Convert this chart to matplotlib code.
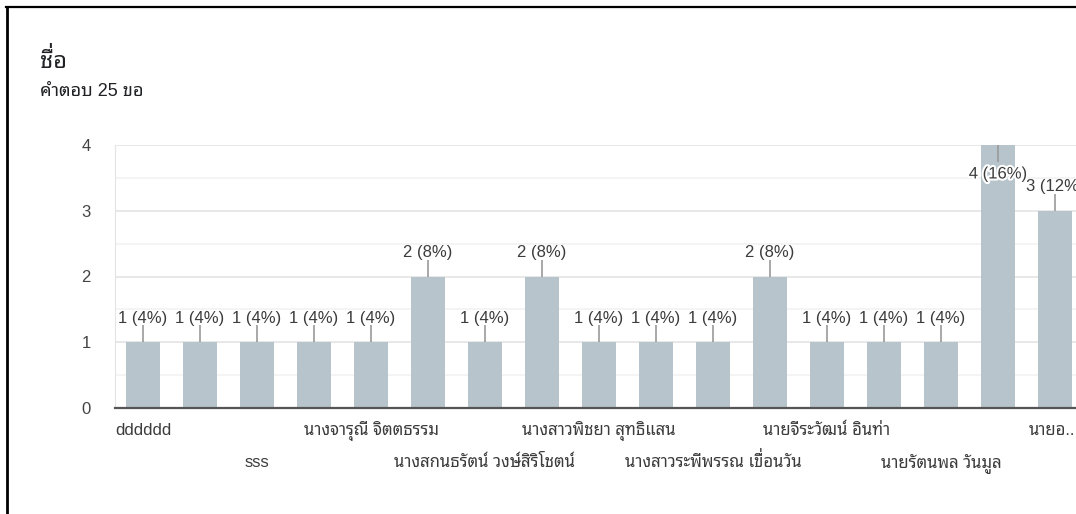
import matplotlib
matplotlib.use('Agg')
import matplotlib.pyplot as plt
from matplotlib.lines import Line2D
import matplotlib.patheffects as pe
from matplotlib.font_manager import FontProperties, fontManager, get_font
from matplotlib.ft2font import LoadFlags
from matplotlib._text_helpers import layout

plt.rcParams['font.family'] = ['Liberation Sans', 'Noto Sans Thai Looped']

# responses per name (only every second name is printed on the axis)
names = ['dddddd', '', 'sss', '', 'นางจารุณี จิตตธรรม', '',
         'นางสกนธรัตน์ วงษ์สิริโชตน์', '', 'นางสาวพิชยา สุทธิแสน', '',
         'นางสาวระพีพรรณ เขื่อนวัน', '', 'นายจีระวัฒน์ อินท่า', '',
         'นายรัตนพล วันมูล', '', 'นายอ..']
counts = [1, 1, 1, 1, 1, 2, 1, 2, 1, 1, 1, 2, 1, 1, 1, 4, 3]
total = 25
title = 'ชื่อ'
subtitle = 'คำตอบ 25 ขอ'

W, H = 1076, 514
fig = plt.figure(figsize=(W / 100, H / 100), dpi=100)

bar_color = '#b7c4cc'
text_color = '#3c3c3c'

UPPER = 'ัิีึื็'
TONES = '่้๊๋์'


def thai_text(x, y, s, size, ha='left', **kw):
    """Text at pixel x / baseline y. matplotlib does no Thai shaping, so a tone
    mark sitting on an upper vowel is drawn on its own, lifted above the vowel."""
    prop = FontProperties(family=plt.rcParams['font.family'], size=size)
    font = get_font(fontManager._find_fonts_by_props(prop))
    font.set_size(size, 100)
    stacked = [k for k in range(1, len(s)) if s[k] in TONES and s[k - 1] in UPPER]
    main = ''.join(c for k, c in enumerate(s) if k not in stacked)
    font.set_text(main, 0.0)
    w = font.get_width_height()[0] / 64
    x0 = x - w / 2 if ha == 'center' else x
    x0 = min(x0, W - w - 1)
    fig.text(x0 / W, y / H, main, ha='left', va='baseline', fontsize=size, **kw)
    for k in stacked:
        items = list(layout(s[:k + 1], font))
        ft = items[-1].ft_object
        vowel = ft.load_char(ord(s[k - 1]), flags=LoadFlags.NO_HINTING).bbox
        tone = ft.load_char(ord(s[k]), flags=LoadFlags.NO_HINTING).bbox
        lift = (vowel[3] - tone[1]) / 64 + 1
        fig.text((x0 + items[-1].x) / W, (y + lift) / H, s[k], ha='left',
                 va='baseline', fontsize=size, **kw)


# plot area in pixels: y=0 at 408, y=4 at 145, 57 px per bar, first bar at 143
step = 57
left = 143 - step / 2
ax = fig.add_axes([left / W, (H - 408) / H, len(counts) * step / W, (408 - 145) / H])
x = list(range(len(counts)))
ax.bar(x, counts, width=0.61, color=bar_color, zorder=2)
ax.set_xlim(-0.5, len(counts) - 0.5)
ax.set_ylim(0, 4)
px = (408 - 145) / 4  # pixels per count

ax.set_yticks([0, 1, 2, 3, 4])
ax.set_yticks([0.5, 1.5, 2.5, 3.5], minor=True)
ax.grid(axis='y', which='major', color='#e4e4e4', lw=1.2, zorder=0)
ax.grid(axis='y', which='minor', color='#f2f2f2', lw=1.2, zorder=0)
ax.tick_params(axis='y', which='both', length=0, pad=17, labelsize=12, labelcolor='#444444')
ax.set_xticks([])
for s in ['top', 'right']:
    ax.spines[s].set_visible(False)
ax.spines['left'].set_color('#e4e4e4')
ax.spines['bottom'].set_color('#555555')
ax.spines['bottom'].set_linewidth(1.6)
ax.spines['bottom'].set_zorder(3)

ymax = ax.get_ylim()[1]
for i, v in enumerate(counts):
    label = '%d (%d%%)' % (v, round(v * 100 / total))
    if v >= ymax:
        # no room above the tallest bar: label goes inside it
        line_end, text_off = -17, -29
    else:
        line_end, text_off = 17, 24
    ax.vlines(i, v, v + line_end / px, color='#999999', lw=1.2, zorder=4, clip_on=False)
    t = ax.annotate(label, xy=(i, v), xytext=(0, text_off), textcoords='offset pixels',
                    ha='center', va='center', fontsize=12, color=text_color,
                    zorder=5, annotation_clip=False)
    if v >= ymax:
        t.set_path_effects([pe.withStroke(linewidth=3, foreground='white')])

# category labels, staggered in two rows (baselines at 435 and 467 px from top)
shown = 0
for i, name in enumerate(names):
    if not name:
        continue
    cx = ax.transData.transform((i, 0))[0]
    base = H - (435 if shown % 2 == 0 else 467)
    thai_text(cx, base, name, 12, ha='center', color=text_color)
    shown += 1

thai_text(40, H - 68, title, 17, color='#202124', fontweight='bold')
thai_text(40, H - 96, subtitle, 13, color='#202124')

# black frame at top and left
fig.add_artist(Line2D([7.3 / W, 7.3 / W], [0, (H - 6.7) / H], color='black', lw=2,
                      transform=fig.transFigure))
fig.add_artist(Line2D([6.3 / W, 1], [(H - 6.7) / H, (H - 6.7) / H], color='black', lw=1.6,
                      transform=fig.transFigure))

fig.savefig('out.png', dpi=100)
